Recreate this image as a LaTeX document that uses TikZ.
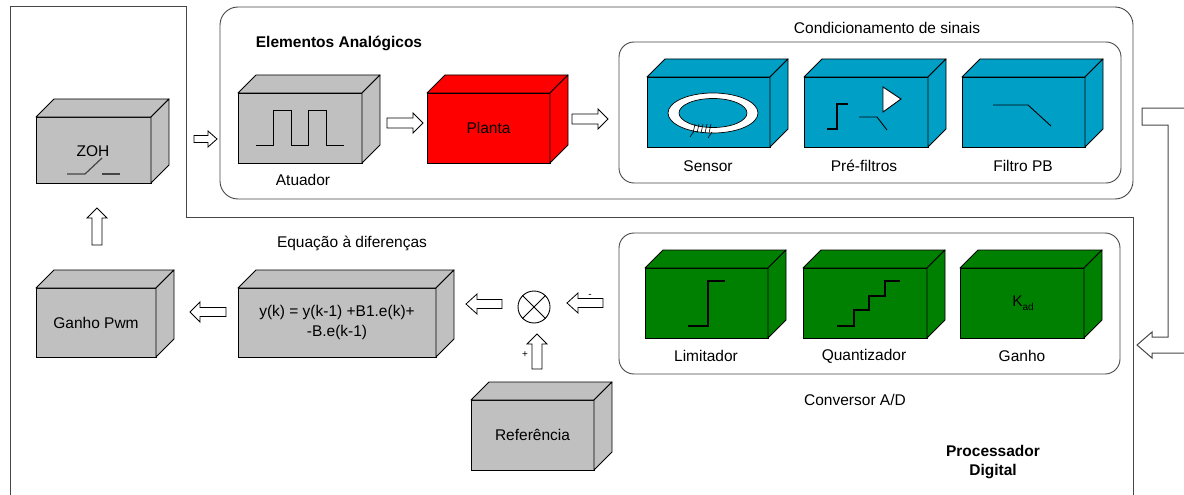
\documentclass[tikz,border=0pt]{standalone}
\usepackage{fontspec}
\setmainfont{Liberation Sans}
\usetikzlibrary{calc}

\definecolor{boxgray}{RGB}{192,192,192}
\definecolor{plantred}{RGB}{255,0,0}
\definecolor{condblue}{RGB}{0,160,198}
\definecolor{adgreen}{RGB}{0,128,0}
\definecolor{framegray}{RGB}{70,70,70}

% 3-D block: name, x, y (front top-left), width, height, fill, text
\newcommand\solidbox[7]{%
  \node[blockface, fill=#6, minimum width=#4pt, minimum height=#5pt,
        anchor=north west] (#1) at (#2,#3) {#7};
  \draw[blockedge, fill=#6] (#1.north west) -- ++(18,-18) -- ++(#4,0)
        -- (#1.north east) -- cycle;
  \draw[blockedge, fill=#6] (#1.north east) -- ++(18,-18) -- ++(0,#5)
        -- (#1.south east) -- cycle;
}

% hollow block arrow: start, direction angle, length, head length,
% shaft half-width, head half-width
\newcommand\blockarrow[6]{%
  \draw[arrowline, shift={#1}, rotate=#2]
    (0,-#5) -- ({#3-#4},-#5) -- ({#3-#4},-#6) -- (#3,0)
    -- ({#3-#4},#6) -- ({#3-#4},#5) -- (0,#5) -- cycle;
}

\begin{document}
\begin{tikzpicture}[x=1pt, y=-1pt,
  font=\fontsize{15.5}{20}\selectfont,
  blockface/.style={draw=black, line width=0.9pt, inner sep=0pt, outer sep=0pt,
                    align=center},
  blockedge/.style={draw=black, line width=0.9pt, line join=round},
  arrowline/.style={draw=black, fill=white, line width=0.8pt, line join=miter},
  group/.style={draw=framegray, line width=0.9pt, rounded corners=18pt},
  icon/.style={draw=black, line width=0.9pt},
  thickicon/.style={draw=black, line width=2pt},
  lbl/.style={inner sep=0pt, anchor=center},
  title/.style={inner sep=0pt, font=\fontsize{15.5}{19}\selectfont\bfseries, align=center},
  sign/.style={inner sep=0pt, font=\fontsize{10}{10}\selectfont}]

\useasboundingbox (0,0) rectangle (1184,495);

% outer processor frame and feedback connector, clipped at the page edge
\begin{scope}
  \clip (0,0) rectangle (1184,495);
  \draw[framegray, line width=1pt] (10,500) -- (10,7) -- (186,7) -- (186,217)
        -- (1133,217) -- (1133,500);
  \draw[framegray, line width=1pt, line join=miter]
        (1195,108) -- (1142,108) -- (1142,125) -- (1168,125) -- (1168,337)
        -- (1152,337) -- (1152,332) -- (1137,345) -- (1152,358) -- (1152,353)
        -- (1195,353);
\end{scope}

% group frames
\draw[group] (220,7) rectangle (1133,199);
\draw[group, rounded corners=15pt] (619,42) rectangle (1121,183);
\draw[group, rounded corners=15pt] (619,233) rectangle (1120,374);

\node[title] (tanalog) at (339,43) {Elementos Analógicos};
\node[lbl] (tcond) at (887,28) {Condicionamento de sinais};
\node[lbl] (teq) at (352,243) {Equação à diferenças};
\node[lbl] (tad) at (855,400) {Conversor A/D};
\node[title, font=\fontsize{15.5}{19.5}\selectfont\bfseries] (tproc) at (993,462) {Processador\\Digital};

% blocks
\solidbox{zoh}{36}{117}{115}{66}{boxgray}{}
\node[lbl] (tzoh) at (93,151) {ZOH};
\draw[draw=framegray, line width=1.2pt] (67,174) -- (85,174) -- (102,158);
\draw[draw=framegray, line width=1.2pt] (102,174) -- (120,174);

\solidbox{atuador}{238}{93}{124}{70}{boxgray}{}
\draw[icon] (256,145) -- (273,145) -- (273,110) -- (291,110) -- (291,145)
      -- (308,145) -- (308,110) -- (326,110) -- (326,145) -- (344,145);
\node[lbl] (tatuador) at (303,180) {Atuador};

\solidbox{planta}{427}{93}{123}{70}{plantred}{Planta}

\solidbox{sensor}{647}{77}{123}{70}{condblue}{}
\fill[white, even odd rule] (713,113) ellipse [x radius=45, y radius=20]
      (713,113) ellipse [x radius=34, y radius=14.5];
\draw[icon, line width=0.7pt] (713,113) ellipse [x radius=45, y radius=20];
\draw[icon, line width=0.7pt] (713,113) ellipse [x radius=34, y radius=14.5];
\foreach \i in {0,...,4}
  \draw[icon, line width=0.6pt] ({695+4*\i},124) -- ({693+4*\i},133);
\draw[icon, line width=0.6pt] (694,131) -- (690,137);
\draw[icon, line width=0.6pt] (712,132) -- (708,138);
\node[lbl] (tsensor) at (708,166) {Sensor};

\solidbox{prefiltros}{804}{77}{124}{70}{condblue}{}
\draw[thickicon, line width=1.6pt] (827,129) -- (837,129) -- (837,104) -- (848,104);
\draw[icon, fill=white] (883,87) -- (883,112) -- (901,99) -- cycle;
\draw[icon] (859,117) -- (877,117) -- (887,130);
\node[lbl] (tprefiltros) at (864,166) {Pré-filtros};

\solidbox{filtropb}{962}{77}{123}{70}{condblue}{}
\draw[icon] (993,105) -- (1028,105) -- (1051,126);
\node[lbl] (tfiltropb) at (1023,166) {Filtro PB};

\solidbox{limitador}{645}{268}{123}{70}{adgreen}{}
\draw[thickicon] (688,326) -- (708,326) -- (708,281) -- (725,281);
\node[lbl] (tlimitador) at (706,356) {Limitador};

\solidbox{quantizador}{803}{268}{124}{70}{adgreen}{}
\draw[thickicon] (837,326) -- (854,326) -- (854,310) -- (869,310) -- (869,296)
      -- (885,296) -- (885,281) -- (900,281);
\node[lbl] (tquantizador) at (864,356) {Quantizador};

\solidbox{ganho}{960}{268}{124}{70}{adgreen}{}
\node[lbl] (tkad) at (1023,303) {K\raisebox{-0.45ex}{\fontsize{10}{10}\selectfont ad}};
\node[lbl] (tganho) at (1022,356) {Ganho};

\solidbox{ganhopwm}{36}{288}{120}{69}{boxgray}{Ganho Pwm}
\solidbox{equacao}{238}{288}{198}{69}{boxgray}{y(k) = y(k-1) +B1.e(k)+\\-B.e(k-1)}
\solidbox{referencia}{471}{400}{123}{70}{boxgray}{Referência}

% summing junction
\node[draw=black, line width=0.9pt, circle, minimum size=32pt, inner sep=0pt]
      (soma) at (534,307) {};
\draw[line width=0.8pt] (soma.north west) -- (soma.south east);
\draw[line width=0.8pt] (soma.north east) -- (soma.south west);

% block arrows
\blockarrow{(194,139)}{0}{23}{9}{3.5}{8}
\blockarrow{(387,123)}{0}{36}{10}{5}{10}
\blockarrow{(572,119)}{0}{36}{10}{5}{10}
\blockarrow{(97,245)}{90}{37}{10}{5}{10}
\blockarrow{(226,312)}{180}{36}{10}{4.5}{10}
\blockarrow{(502,304)}{180}{36}{11}{4.5}{10}
\blockarrow{(603,303)}{180}{36}{11}{4.5}{10}
\blockarrow{(537,369)}{90}{35}{10}{5}{10}

\node[sign] (sminus) at (590,296) {-};
\node[sign] (splus) at (525,355) {+};

\end{tikzpicture}
\end{document}
